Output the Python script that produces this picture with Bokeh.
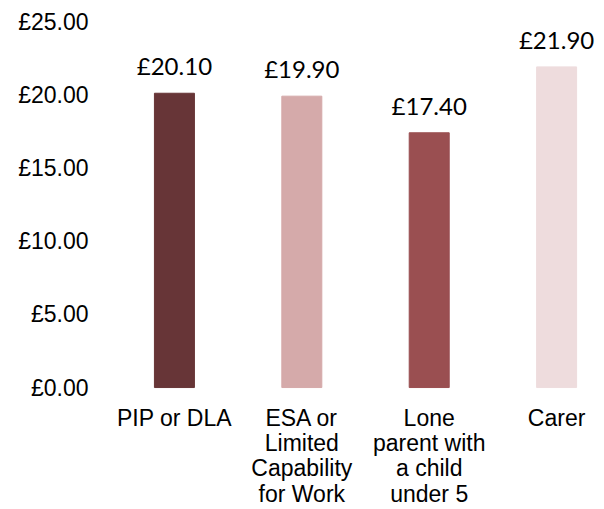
from bokeh.plotting import figure
from bokeh.models import ColumnDataSource, LabelSet, FixedTicker, PrintfTickFormatter, Range1d
from bokeh.core.properties import value
from bokeh.embed import file_html
from bokeh.resources import INLINE

categories = ["PIP or DLA", "ESA or\nLimited\nCapability\nfor Work", "Lone\nparent with\na child\nunder 5", "Carer"]
values = [20.10, 19.90, 17.40, 21.90]
value_labels = ["£20.10", "£19.90", "£17.40", "£21.90"]
colors = ["#673537", "#D5AAAA", "#9A4F51", "#EEDCDD"]
y_ticks = [0, 5, 10, 15, 20, 25]

xs = list(range(len(categories)))
base = [0] * len(categories)
src = ColumnDataSource(dict(x=xs, top=values, base=base, lab=value_labels, cat=categories, color=colors))

p = figure(width=604, height=509, output_backend="svg", toolbar_location=None,
           x_range=Range1d(-0.596, 3.376), y_range=Range1d(-8.33, 25),
           min_border_left=98, min_border_right=0, min_border_top=21, min_border_bottom=0)

p.vbar(x="x", top="top", bottom=0, width=0.314, color="color", source=src)

labels = LabelSet(x="x", y="top", text="lab", source=src, text_align="center",
                  text_baseline="alphabetic", y_offset=18, text_font=value("Lato"),
                  text_font_size="24px", text_color="#000000")
p.add_layout(labels)

p.text(x="x", y="base", text="cat", source=src, text_align="center",
       text_baseline="top", y_offset=17, text_font=value("Liberation Sans"),
       text_font_size="23px", text_color="#000000", text_line_height=0.98)

p.xaxis.visible = False
p.yaxis.ticker = FixedTicker(ticks=y_ticks)
p.yaxis.formatter = PrintfTickFormatter(format="£%.2f")
p.yaxis.axis_line_color = None
p.yaxis.major_tick_line_color = None
p.yaxis.minor_tick_line_color = None
p.yaxis.major_label_text_font = "Liberation Sans"
p.yaxis.major_label_text_font_size = "23px"
p.yaxis.major_label_text_color = "#000000"
p.yaxis.major_label_standoff = 4

p.xgrid.grid_line_color = None
p.ygrid.grid_line_color = None
p.outline_line_color = None

open("out.html", "w").write(file_html(p, INLINE))
